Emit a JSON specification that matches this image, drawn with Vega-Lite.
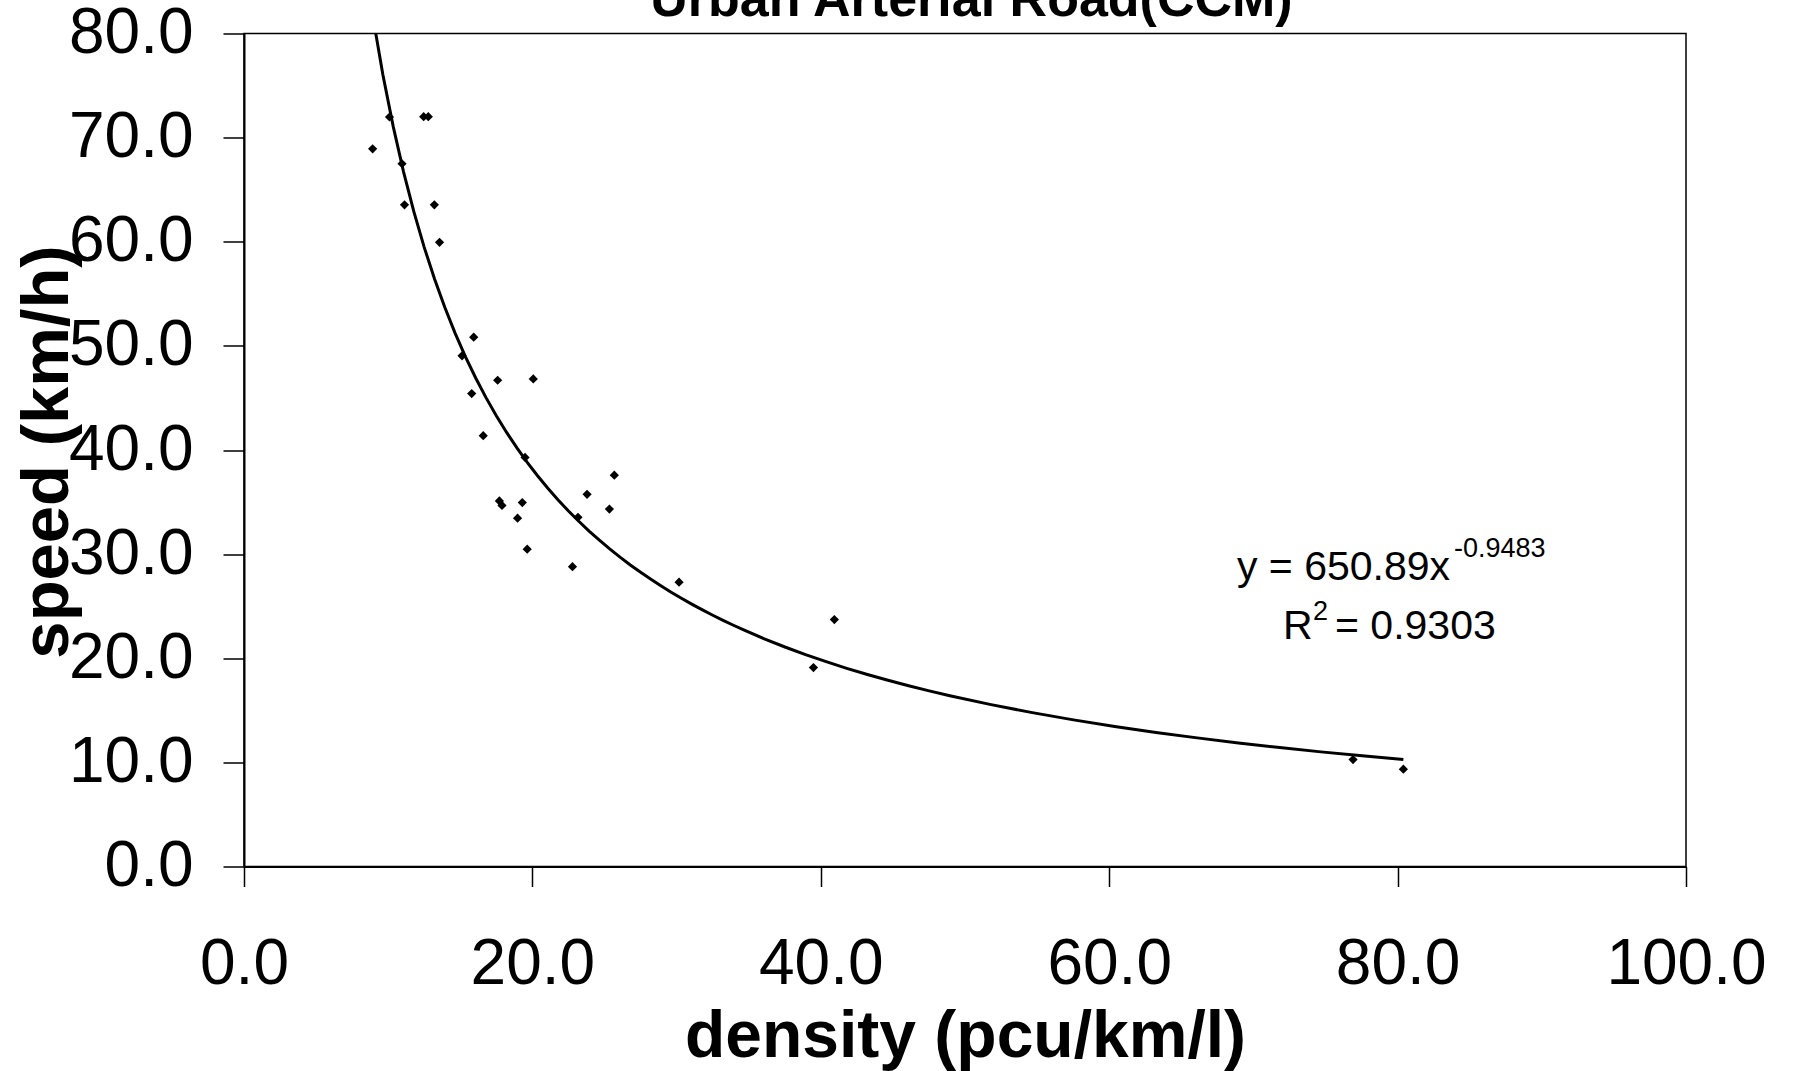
{
  "$schema": "https://vega.github.io/schema/vega-lite/v6.json",
  "width": 1442,
  "height": 833,
  "autosize": {"type": "none"},
  "padding": {"left": 244, "top": 33.5, "right": 108, "bottom": 204.5},
  "background": "white",
  "config": {"view": {"stroke": "black", "strokeWidth": 1.5}, "font": "Liberation Sans"},
  "data": {"values": [
    {"density": 10.09, "speed": 71.98},
    {"density": 8.92, "speed": 68.93},
    {"density": 12.46, "speed": 72.01},
    {"density": 12.78, "speed": 72.01},
    {"density": 10.96, "speed": 67.49},
    {"density": 11.13, "speed": 63.55},
    {"density": 13.20, "speed": 63.55},
    {"density": 13.56, "speed": 59.95},
    {"density": 15.93, "speed": 50.83},
    {"density": 15.12, "speed": 49.04},
    {"density": 17.59, "speed": 46.70},
    {"density": 20.06, "speed": 46.83},
    {"density": 15.79, "speed": 45.42},
    {"density": 16.59, "speed": 41.37},
    {"density": 19.49, "speed": 39.29},
    {"density": 25.68, "speed": 37.58},
    {"density": 23.79, "speed": 35.74},
    {"density": 17.71, "speed": 35.11},
    {"density": 17.89, "speed": 34.68},
    {"density": 19.30, "speed": 34.95},
    {"density": 25.34, "speed": 34.33},
    {"density": 18.97, "speed": 33.45},
    {"density": 23.16, "speed": 33.53},
    {"density": 19.64, "speed": 30.48},
    {"density": 22.78, "speed": 28.79},
    {"density": 30.17, "speed": 27.31},
    {"density": 40.94, "speed": 23.72},
    {"density": 39.49, "speed": 19.11},
    {"density": 76.91, "speed": 10.27},
    {"density": 80.40, "speed": 9.35}
  ]},
  "layer": [
    {
      "mark": {"type": "point", "shape": "diamond", "filled": true, "color": "black", "size": 85, "opacity": 1},
      "encoding": {
        "x": {"field": "density", "type": "quantitative", "title": "density (pcu/km/l)",
          "scale": {"domain": [0, 100], "nice": false, "zero": false},
          "axis": {"values": [0, 20, 40, 60, 80, 100], "format": ".1f", "grid": false,
            "labelFont": "Liberation Sans", "labelFontSize": 64, "labelColor": "black", "labelBaseline": "alphabetic", "labelPadding": 97, "labelFlush": false, "labelOverlap": false,
            "tickSize": 20, "tickColor": "black", "tickWidth": 1.5, "domainColor": "black", "domainWidth": 2,
            "titleFont": "Liberation Sans", "titleFontSize": 66, "titleFontWeight": "bold", "titleColor": "black", "titleBaseline": "alphabetic", "titleY": 190, "titleX": 721}},
        "y": {"field": "speed", "type": "quantitative", "title": "speed (km/h)",
          "scale": {"domain": [0, 80], "nice": false, "zero": false},
          "axis": {"values": [0, 10, 20, 30, 40, 50, 60, 70, 80], "format": ".1f", "grid": false,
            "labelFont": "Liberation Sans", "labelFontSize": 64, "labelColor": "black", "labelBaseline": "middle", "labelPadding": 30, "labelFlush": false, "labelOverlap": false,
            "tickSize": 21, "tickColor": "black", "tickWidth": 1.5, "domainColor": "black", "domainWidth": 2,
            "titleFont": "Liberation Sans", "titleFontSize": 67, "titleFontWeight": "bold", "titleColor": "black", "titleBaseline": "alphabetic", "titleAngle": -90, "titleAlign": "center", "titleX": -177, "titleY": 418}}
      }
    },
    {
      "transform": [{"regression": "speed", "on": "density", "method": "pow"}],
      "mark": {"type": "line", "color": "black", "strokeWidth": 3, "clip": true},
      "encoding": {
        "x": {"field": "density", "type": "quantitative"},
        "y": {"field": "speed", "type": "quantitative"}
      }
    },
    {
      "data": {"values": [{"label": "Urban Arterial Road(CCM)"}]},
      "mark": {"type": "text", "align": "center", "baseline": "alphabetic", "font": "Liberation Sans", "fontSize": 52, "fontWeight": "bold", "color": "black"},
      "encoding": {"text": {"field": "label"}, "x": {"datum": 50.45}, "y": {"datum": 81.71}}
    },
    {
      "data": {"values": [{"label": "y = 650.89x"}]},
      "mark": {"type": "text", "align": "left", "baseline": "alphabetic", "font": "Liberation Sans", "fontSize": 41, "color": "black"},
      "encoding": {"text": {"field": "label"}, "x": {"datum": 68.86}, "y": {"datum": 27.53}}
    },
    {
      "data": {"values": [{"label": "-0.9483"}]},
      "mark": {"type": "text", "align": "left", "baseline": "alphabetic", "font": "Liberation Sans", "fontSize": 27, "color": "black"},
      "encoding": {"text": {"field": "label"}, "x": {"datum": 83.91}, "y": {"datum": 29.77}}
    },
    {
      "data": {"values": [{"label": "R"}]},
      "mark": {"type": "text", "align": "left", "baseline": "alphabetic", "font": "Liberation Sans", "fontSize": 41, "color": "black"},
      "encoding": {"text": {"field": "label"}, "x": {"datum": 72.05}, "y": {"datum": 21.86}}
    },
    {
      "data": {"values": [{"label": "2"}]},
      "mark": {"type": "text", "align": "left", "baseline": "alphabetic", "font": "Liberation Sans", "fontSize": 27, "color": "black"},
      "encoding": {"text": {"field": "label"}, "x": {"datum": 74.13}, "y": {"datum": 23.69}}
    },
    {
      "data": {"values": [{"label": "= 0.9303"}]},
      "mark": {"type": "text", "align": "left", "baseline": "alphabetic", "font": "Liberation Sans", "fontSize": 41, "color": "black"},
      "encoding": {"text": {"field": "label"}, "x": {"datum": 75.66}, "y": {"datum": 21.86}}
    }
  ]
}
